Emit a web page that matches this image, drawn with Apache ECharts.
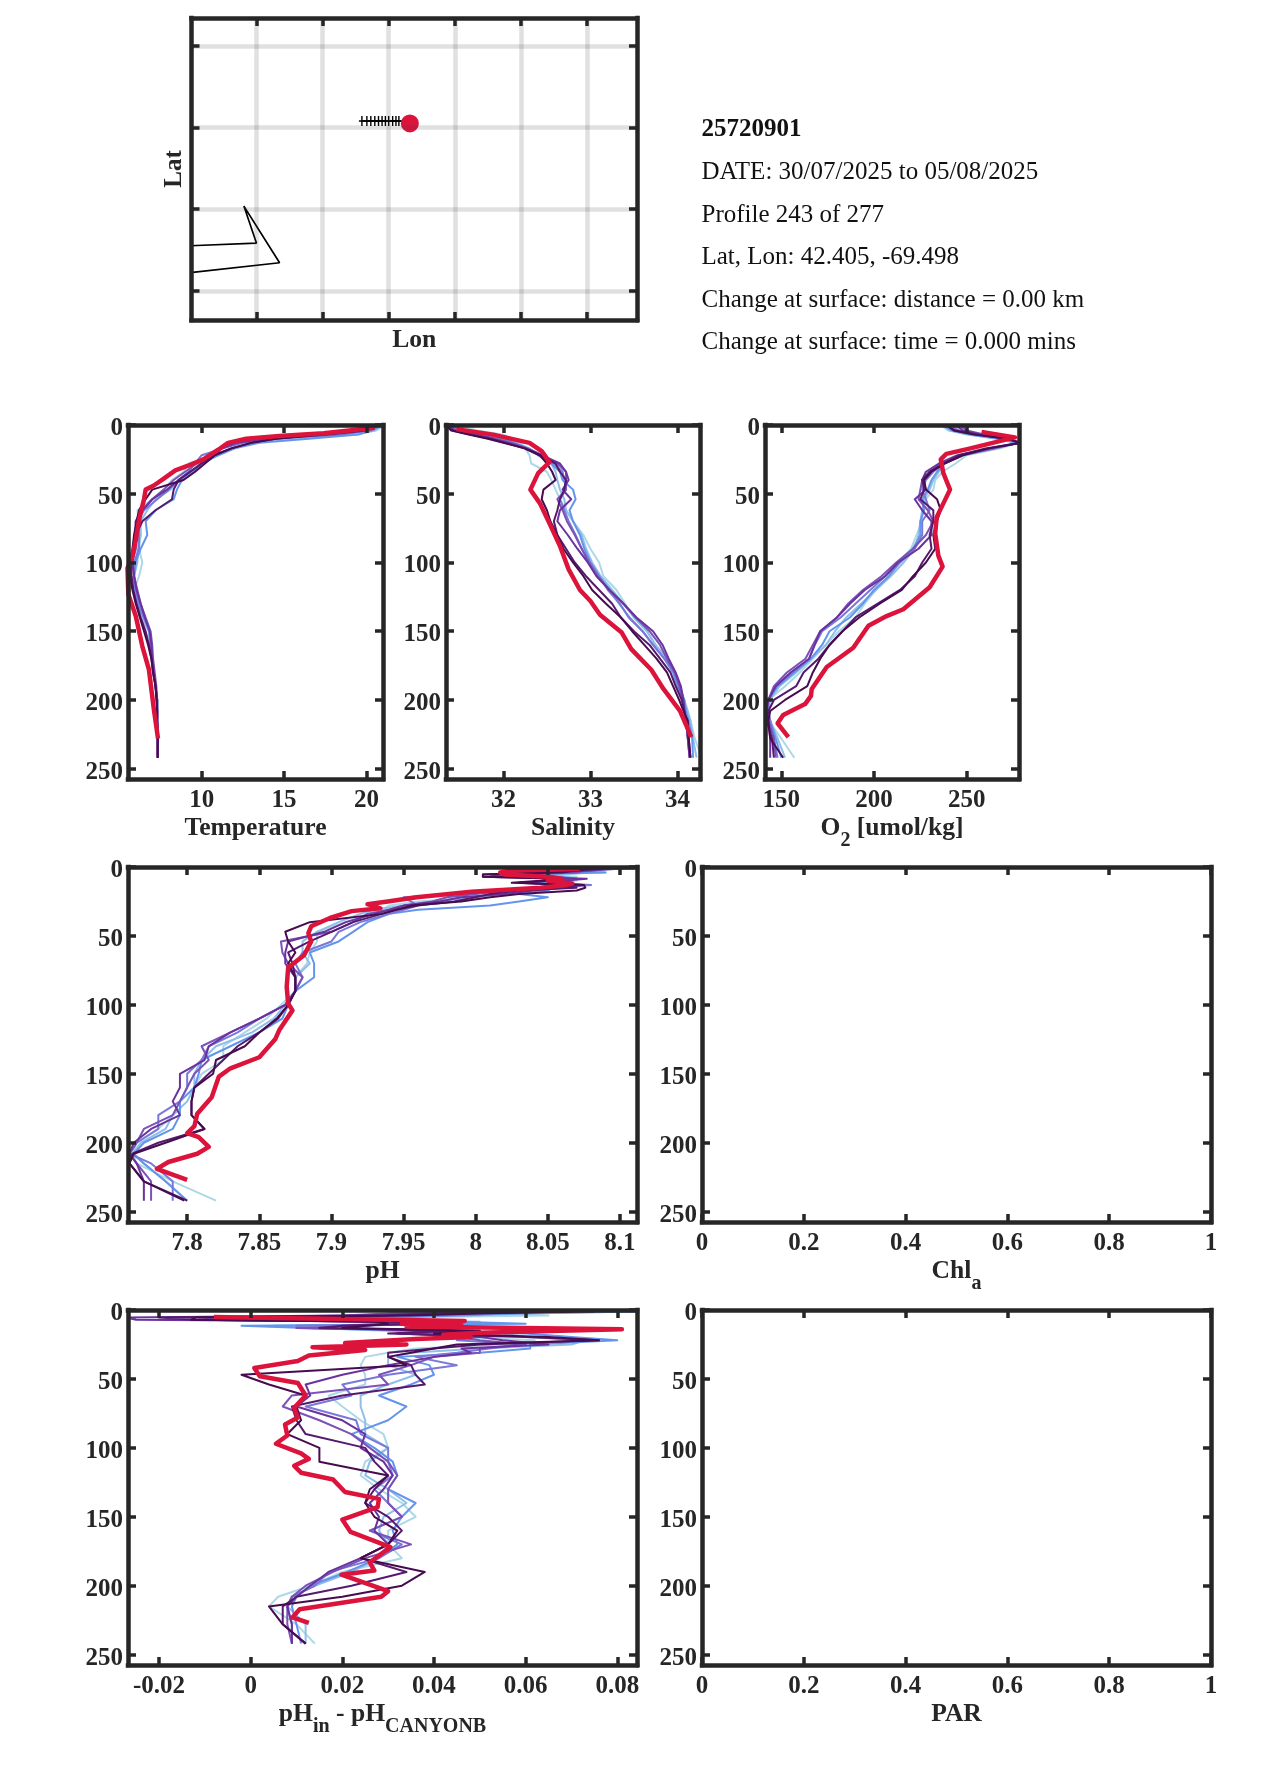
<!DOCTYPE html>
<html><head><meta charset="utf-8">
<style>html,body{margin:0;padding:0;background:#fff}#c{width:1275px;height:1771px}</style>
<script src="https://cdn.jsdelivr.net/npm/echarts@6/dist/echarts.min.js"></script>
</head><body><div id="c"></div>
<script>
const levels=[1,4,7,10,13,17,22,28,34,40,47,54,62,70,80,90,100,110,120,130,140,150,160,170,180,190,200,208,215,228,242];
const topLevels=[2.5,5.5,8.5,11.5,15,19.5,25,31];
const depthTicks=[0,50,100,150,200,250];
const lineColors=['#add8e6','#8fbfe8','#6495ed','#7a78d8','#7b52b8','#6a329f','#551a6e','#470b4f'];
const redColor='#dc143c';

const tempS1=[21,20.6,19,15,13,12,11,9.2,8.9,8.2,7.7,7,6.1,6.2,6.3,6.2,6.4,6.2,5.9,6,6.4,6.8,6.9,7,7.1,7.2,7.3,7.3,7.3,7.35,7.35];
const tempS2=[20.9,20.5,19.4,15.5,13,12,10.6,9.9,9.4,8.7,8.1,7.2,6.7,6.3,6.3,6.1,6.1,5.9,5.9,6.1,6.4,6.8,6.9,7,7.1,7.2,7.3,7.3,7.3,7.35,7.35];
const tempS3=[20.8,20.3,19.5,16.5,13.5,12,11,10,9.5,8.8,8.5,8.3,7.2,6.6,6.7,6.3,6,5.9,5.9,6.1,6.5,6.8,6.9,7,7.1,7.2,7.3,7.3,7.3,7.35,7.35];
const tempS4=[20.7,20.2,18.5,14,12.5,11.3,10,9.6,9.2,8.6,8,7.3,6.5,6.1,6.2,6.2,5.9,5.9,6,6.2,6.5,6.85,6.9,7,7.1,7.2,7.3,7.3,7.3,7.33,7.33];
const tempS5=[20.6,20,18,14,12.3,11.2,10.5,9.7,9,8.3,7.7,7,6.4,6,6,6,5.8,5.9,6.1,6.3,6.6,6.9,7,7.05,7.15,7.25,7.3,7.3,7.3,7.33,7.33];
const tempS6=[20.6,20,17.5,13.8,12,11.2,10.8,10,9.3,8.6,7.9,7,6.4,6,6,5.9,5.8,5.9,6.05,6.3,6.55,6.85,6.95,7,7.1,7.2,7.3,7.3,7.3,7.33,7.33];
const tempS7=[20.5,19.8,17.5,14.5,13,11.8,10.7,10,9.3,8.6,8.3,8.2,7.2,6.4,6,5.9,5.7,5.75,5.85,6.05,6.3,6.6,6.8,6.95,7.05,7.2,7.28,7.3,7.3,7.33,7.33];
const tempS8=[20.5,19.5,17,14.5,13,11.8,10.8,10.2,9.6,8.9,7,6.6,6.2,6.05,5.9,5.8,5.6,5.65,5.8,6,6.25,6.5,6.75,6.95,7.05,7.2,7.25,7.3,7.3,7.33,7.33];
const tempRedDepth=[2,6,8,10,13,18,25,29,33,39,44,47,54,69,84,95,104,123,139,161,178,207,228];
const tempRedValue=[20.5,17.4,14.7,12.7,11.6,11,10.1,9.3,8.4,7.7,7.1,6.6,6.5,6.2,6,5.8,5.5,5.55,6,6.4,6.8,7.1,7.35];

const salS1=[31.5,31.7,32.0,32.1,32.2,32.25,32.3,32.32,32.5,32.55,32.6,32.65,32.72,32.8,32.92,33.0,33.1,33.15,33.3,33.4,33.5,33.65,33.75,33.85,33.95,34.0,34.05,34.1,34.15,34.2,34.28];
const salS2=[31.4,31.55,31.85,32.0,32.15,32.3,32.4,32.55,32.6,32.62,32.65,32.7,32.72,32.8,32.9,32.95,33.02,33.12,33.25,33.38,33.5,33.65,33.75,33.88,33.97,34.03,34.08,34.12,34.15,34.18,34.22];
const salS3=[31.4,31.5,31.8,31.98,32.12,32.28,32.42,32.55,32.65,32.68,32.8,32.83,32.76,32.8,32.88,32.93,33.0,33.1,33.22,33.33,33.45,33.6,33.72,33.85,33.95,34.0,34.08,34.1,34.13,34.17,34.18];
const salS4=[31.38,31.48,31.72,31.92,32.08,32.26,32.4,32.58,32.68,32.7,32.72,32.65,32.7,32.75,32.83,32.9,33.0,33.1,33.2,33.34,33.44,33.6,33.72,33.85,33.97,34.03,34.07,34.09,34.1,34.12,34.15];
const salS5=[31.36,31.45,31.7,31.9,32.1,32.28,32.45,32.62,32.72,32.72,32.72,32.62,32.68,32.73,32.82,32.9,32.98,33.08,33.22,33.38,33.52,33.68,33.8,33.88,33.97,34.02,34.06,34.08,34.1,34.12,34.14];
const salS6=[31.36,31.44,31.68,31.88,32.05,32.25,32.44,32.65,32.72,32.75,32.68,32.78,32.65,32.62,32.74,32.85,32.97,33.07,33.22,33.38,33.53,33.72,33.83,33.9,33.98,34.04,34.07,34.08,34.1,34.12,34.14];
const salS7=[31.35,31.42,31.62,31.85,32.02,32.24,32.42,32.6,32.65,32.72,32.7,32.65,32.62,32.58,32.62,32.72,32.82,32.95,33.1,33.25,33.35,33.5,33.68,33.8,33.92,33.98,34.05,34.08,34.1,34.13,34.15];
const salS8=[31.35,31.4,31.6,31.82,32.0,32.25,32.42,32.5,32.56,32.6,32.46,32.44,32.5,32.54,32.62,32.69,32.8,32.92,33.02,33.18,33.35,33.48,33.62,33.76,33.88,33.95,34.02,34.07,34.12,34.13,34.15];
const salRedDepth=[3,7,13,19,27,35,47,57,73,88,105,120,128,138,151,163,178,192,208,227];
const salRedValue=[31.46,31.88,32.3,32.44,32.53,32.4,32.31,32.42,32.54,32.65,32.75,32.88,33.0,33.11,33.36,33.47,33.7,33.84,34.03,34.16];

const oxyS1=[237,240,252,268,278,268,250,244,237,233,232,228,226,226,223,220,213,208,201,195,190,181,174,167,160,152,143,141,143,150,157];
const oxyS2=[238,241,250,266,276,262,246,238,235,232,230,227,226,225,224,222,216,209,201,193,185,179,174,166,158,149,144,143,144,148,152];
const oxyS3=[238,242,252,268,277,265,247,238,234,231,229,226,227,225,225,221,214,208,200,194,187,176,172,166,157,148,143,142,144,147,150];
const oxyS4=[242,246,256,270,278,266,248,238,232,228,226,228,230,226,226,222,214,206,198,190,182,172,168,165,156,147,143,143,144,146,148];
const oxyS5=[247,250,260,272,278,264,246,236,230,226,225,224,229,232,228,221,212,204,194,186,180,171,167,163,153,146,143,142,143,146,147];
const oxyS6=[245,248,258,272,279,262,245,235,228,226,228,222,226,231,231,224,213,206,195,187,180,171,168,165,155,147,143,142,143,144,144];
const oxyS7=[240,244,256,272,279,260,246,238,230,226,227,225,232,232,230,231,226,222,214,202,190,183,176,170,162,158,146,143,142,145,146];
const oxyS8=[240,243,254,272,279,262,248,238,231,227,228,234,236,234,232,233,228,221,215,203,192,183,176,171,167,164,152,144,143,144,151];
const oxyRedDepth=[5,9,17,21,25,35,47,57,67,79,95,103,118,134,139,146,162,176,192,197,203,211,217,227];
const oxyRedValue=[258,276,252,239,236,237.4,241,237.4,233.8,233,234.7,237,230,215.8,206.8,197,188.8,174.5,166.4,166,162.8,151,148,153.8];

const phS1=[8.11,8.09,8.07,8.07,8.07,8.04,8.0,7.94,7.925,7.91,7.89,7.89,7.885,7.883,7.875,7.875,7.865,7.855,7.84,7.825,7.825,7.81,7.805,7.795,7.79,7.78,7.765,7.762,7.765,7.79,7.82];
const phS2=[8.1,8.08,8.05,8.06,8.07,8.03,8.0,7.95,7.92,7.905,7.89,7.88,7.88,7.885,7.875,7.875,7.868,7.86,7.845,7.82,7.81,7.805,7.805,7.8,7.79,7.785,7.768,7.762,7.77,7.785,7.8];
const phS3=[8.11,8.09,8.06,8.05,8.07,8.05,8.05,8.01,7.94,7.925,7.915,7.905,7.885,7.888,7.888,7.875,7.87,7.866,7.85,7.83,7.81,7.808,7.805,7.795,7.795,7.79,7.77,7.763,7.77,7.785,7.8];
const phS4=[8.1,8.07,8.04,8.06,8.08,8.03,7.95,7.96,7.94,7.92,7.905,7.9,7.88,7.875,7.88,7.875,7.868,7.85,7.835,7.815,7.81,7.8,7.8,7.795,7.78,7.78,7.765,7.76,7.775,7.79,7.79];
const phS5=[8.1,8.07,8.03,8.05,8.07,8.02,7.98,7.95,7.925,7.915,7.9,7.865,7.866,7.87,7.88,7.875,7.868,7.85,7.83,7.81,7.815,7.805,7.8,7.795,7.79,7.77,7.765,7.76,7.765,7.775,7.775];
const phS6=[8.095,8.05,8.02,8.06,8.075,8.04,7.99,7.95,7.93,7.91,7.895,7.87,7.868,7.868,7.875,7.875,7.868,7.85,7.83,7.815,7.812,7.795,7.795,7.79,7.795,7.775,7.763,7.76,7.765,7.77,7.77];
const phS7=[8.09,8.06,8.005,8.05,8.06,8.03,8.0,7.96,7.935,7.915,7.9,7.885,7.87,7.873,7.875,7.875,7.87,7.863,7.85,7.835,7.825,7.815,7.805,7.803,7.803,7.812,7.78,7.762,7.76,7.77,7.8];
const phS8=[8.08,8.05,8.005,8.045,8.075,8.07,8.01,7.955,7.935,7.885,7.868,7.87,7.875,7.87,7.875,7.875,7.87,7.862,7.85,7.84,7.82,7.818,7.805,7.803,7.803,7.812,7.785,7.763,7.76,7.77,7.798];
const phTop1=[8.06,8.04,8.05,8.03,8.055,8.02,7.96,7.935];
const phTop2=[8.07,8.05,8.06,8.04,8.06,8.015,7.97,7.93];
const phTop3=[8.06,8.03,8.07,8.035,8.055,8.03,8.03,7.96];
const phTop4=[8.08,8.02,8.07,8.05,8.05,7.99,7.955,7.95];
const phTop5=[8.075,8.02,8.065,8.06,8.05,8.0,7.97,7.94];
const phTop6=[8.08,8.01,8.077,8.055,8.06,8.02,7.975,7.94];
const phTop7=[8.07,8.005,8.06,8.03,8.07,8.01,7.985,7.945];
const phTop8=[8.07,8.005,8.06,8.025,8.076,8.03,7.99,7.945];
const phRedDepth=[1.5,2.5,4,5.5,7,8.5,10,12,13.5,15,18,22,25,27,30,32,37,43,48,54,64,73,87,99,104,118,125,138,146,152,167,179,188,193,196,203,208,214,219,227];
const phRedValue=[8.072,8.025,8.017,8.02,8.05,8.06,8.05,8.067,8.06,8.045,7.997,7.959,7.939,7.925,7.934,7.914,7.899,7.886,7.884,7.886,7.881,7.87,7.869,7.87,7.873,7.864,7.861,7.85,7.83,7.822,7.817,7.807,7.805,7.8,7.808,7.815,7.807,7.787,7.779,7.8];

const diffS1=[0.084,0.065,0.03,0.045,0.012,0.05,0.062,0.036,0.025,0.024,0.025,0.025,0.017,0.02,0.024,0.029,0.03,0.025,0.024,0.028,0.033,0.036,0.03,0.03,0.033,0.02,0.013,0.006,0.004,0.01,0.014];
const diffS2=[0.084,0.05,0.01,0.05,0.013,0.055,0.073,0.05,0.03,0.03,0.036,0.03,0.024,0.024,0.025,0.025,0.03,0.026,0.025,0.03,0.034,0.029,0.028,0.03,0.028,0.022,0.014,0.009,0.008,0.012,0.012];
const diffS3=[0.084,0.045,0.02,0.06,0.012,0.06,0.08,0.061,0.032,0.039,0.04,0.035,0.028,0.034,0.03,0.022,0.027,0.031,0.032,0.03,0.036,0.033,0.031,0.032,0.028,0.021,0.013,0.01,0.009,0.01,0.011];
const diffS4=[0.064,0.03,0,0.04,0.01,0.04,0.045,0.052,0.036,0.045,0.03,0.02,0.022,0.012,0.023,0.024,0.03,0.03,0.031,0.027,0.03,0.033,0.026,0.033,0.028,0.017,0.014,0.009,0.008,0.009,0.009];
const diffS5=[0.058,0.02,-0.012,0.035,0.01,0.035,0.05,0.05,0.04,0.035,0.028,0.03,0.009,0.007,0.015,0.022,0.026,0.03,0.032,0.03,0.03,0.033,0.026,0.035,0.025,0.018,0.012,0.009,0.008,0.008,0.009];
const diffS6=[0.055,0.02,-0.025,0.03,0.02,0.032,0.055,0.046,0.04,0.03,0.02,0.012,0.013,0.01,0.02,0.025,0.024,0.029,0.031,0.029,0.026,0.028,0.027,0.03,0.024,0.017,0.013,0.01,0.008,0.009,0.009];
const diffS7=[0.075,0.03,-0.012,0.04,0.015,0.03,0.076,0.04,0.03,0.035,0.036,0.038,0.02,0.009,0.01,0.012,0.025,0.027,0.03,0.027,0.025,0.03,0.033,0.03,0.024,0.034,0.022,0.01,0.007,0.007,0.012];
const diffS8=[0.07,0.035,-0.013,0.03,0.02,0.04,0.076,0.04,0.03,0.034,-0.002,0.004,0.012,0.01,0.011,0.008,0.015,0.015,0.03,0.026,0.025,0.027,0.032,0.03,0.024,0.038,0.033,0.02,0.004,0.007,0.012];
const diffTop1=[0.05,0.03,0.04,0.02,0.05,0.045,0.055,0.03];
const diffTop2=[0.04,0.02,0.05,0.005,0.03,0.06,0.07,0.035];
const diffTop3=[0.06,0.03,0.045,-0.002,0.035,0.07,0.061,0.05];
const diffTop4=[0.03,0.01,0.04,0.01,0.045,0.05,0.06,0.045];
const diffTop5=[0.03,-0.005,0.03,0.025,0.05,0.045,0.06,0.05];
const diffTop6=[0.04,-0.027,0.035,0.02,0.04,0.05,0.065,0.048];
const diffTop7=[0.04,-0.02,0.03,0.02,0.045,0.06,0.05,0.03];
const diffTop8=[0.05,-0.012,0.028,0.025,0.05,0.065,0.045,0.035];
const diffRedDepth=[5,7,8,10,11,12,14,16.5,18,19.5,21,24,25,27,29,33,37,42,48,53,62,71,78,83,91,97,104,108,113,118,123,132,137,143,152,161,172,183,189,192,204,208,217,223,227];
const diffRedValue=[-0.008,0.03,0.0467,0.033,0.046,0.034,0.081,0.05,0.042,0.048,0.036,0.0206,0.034,0.0135,0.025,0.0127,0.0103,0.0008,0.002,0.0103,0.012,0.0095,0.0103,0.0075,0.008,0.0055,0.011,0.0127,0.0095,0.011,0.018,0.0206,0.028,0.0277,0.02,0.0218,0.0305,0.026,0.027,0.0198,0.03,0.0285,0.0107,0.0091,0.0127];

const lonTicks=[-69.73,-69.63,-69.53,-69.43,-69.33,-69.23];
const latTicks=[42.5,42.4,42.3,42.2];
const trackLon=[-69.5705,-69.563,-69.557,-69.551,-69.5454,-69.54,-69.535,-69.53,-69.524,-69.519,-69.5146];
const trackLat=[42.408,42.408,42.408,42.408,42.408,42.408,42.408,42.408,42.408,42.408,42.408];
const floatLon=[-69.498];
const floatLat=[42.405];
const coastLon=[-69.83,-69.73,-69.749,-69.695,-69.83];
const coastLat=[42.2553,42.2586,42.3038,42.2345,42.2223];

const infoLines=['25720901','DATE: 30/07/2025 to 05/08/2025','Profile 243 of 277','Lat, Lon: 42.405, -69.498','Change at surface: distance = 0.00 km','Change at surface: time = 0.000 mins'];
const infoY=[130,172,215,257,300,342];

const FONT='"Liberation Serif","Times New Roman",serif';
const INK='#262626';
const richSub={s:{fontFamily:FONT,fontWeight:'bold',fontSize:20,color:INK,lineHeight:44,verticalAlign:'bottom'}};
const panels=[
 {l:128,r:383,t:425,b:779,min:5.53,max:21,ticks:[10,15,20],name:'Temperature',red:[tempRedValue,tempRedDepth],thin:[tempS1,tempS2,tempS3,tempS4,tempS5,tempS6,tempS7,tempS8]},
 {l:446,r:700,t:425,b:779,min:31.34,max:34.26,ticks:[32,33,34],name:'Salinity',red:[salRedValue,salRedDepth],thin:[salS1,salS2,salS3,salS4,salS5,salS6,salS7,salS8]},
 {l:765,r:1019,t:425,b:779,min:141.2,max:278.2,ticks:[150,200,250],name:'O{s|2} [umol/kg]',red:[oxyRedValue,oxyRedDepth],thin:[oxyS1,oxyS2,oxyS3,oxyS4,oxyS5,oxyS6,oxyS7,oxyS8]},
 {l:128,r:637,t:867,b:1222,min:7.759,max:8.1118,ticks:[7.8,7.85,7.9,7.95,8,8.05,8.1],name:'pH',red:[phRedValue,phRedDepth],thin:[phS1,phS2,phS3,phS4,phS5,phS6,phS7,phS8],top:[phTop1,phTop2,phTop3,phTop4,phTop5,phTop6,phTop7,phTop8]},
 {l:702,r:1211,t:867,b:1222,min:0,max:1,ticks:[0,0.2,0.4,0.6,0.8,1],name:'Chl{s|a}',thin:[]},
 {l:128,r:637,t:1310,b:1665,min:-0.02676,max:0.0843,ticks:[-0.02,0,0.02,0.04,0.06,0.08],name:'pH{s|in} - pH{s|CANYONB}',red:[diffRedValue,diffRedDepth],thin:[diffS1,diffS2,diffS3,diffS4,diffS5,diffS6,diffS7,diffS8],top:[diffTop1,diffTop2,diffTop3,diffTop4,diffTop5,diffTop6,diffTop7,diffTop8]},
 {l:702,r:1211,t:1310,b:1665,min:0,max:1,ticks:[0,0.2,0.4,0.6,0.8,1],name:'PAR',thin:[]}
];

const grid=[],xAxis=[],yAxis=[],series=[];
const label=(vals,margin,extra)=>Object.assign({show:true,customValues:vals,margin,fontFamily:FONT,fontWeight:'bold',fontSize:25,color:INK,formatter:v=>String(v),hideOverlap:false,showMinLabel:true,showMaxLabel:true},extra||{});
const tick=(vals)=>({show:true,inside:true,length:8,customValues:vals,lineStyle:{color:INK,width:3.5}});
const line={show:true,onZero:false,lineStyle:{color:INK,width:4.5,cap:'square'}};
const nameStyle={fontFamily:FONT,fontWeight:'bold',fontSize:25.6,color:INK,verticalAlign:'middle',rich:richSub};

function addAxes(g,o){
  const i=grid.length;
  grid.push({left:g.l,top:g.t,width:g.r-g.l,height:g.b-g.t,containLabel:false});
  xAxis.push({gridIndex:i,type:'value',position:'bottom',min:g.min,max:g.max,z:10,axisLine:line,axisTick:tick(o.xt),
    axisLabel:o.xl?label(o.xl,9):{show:false},splitLine:o.grid?{show:true,lineStyle:{color:'rgba(60,60,60,0.16)',width:4.5}}:{show:false},
    name:g.name,nameLocation:'middle',nameGap:o.xGap||49.5,nameTextStyle:nameStyle});
  xAxis.push({gridIndex:i,type:'value',position:'top',min:g.min,max:g.max,z:10,axisLine:line,axisTick:tick(o.xt),axisLabel:{show:false},splitLine:{show:false}});
  yAxis.push({gridIndex:i,type:'value',position:'left',inverse:o.inv,min:o.ymin,max:o.ymax,z:10,axisLine:line,axisTick:tick(o.yt),
    axisLabel:o.yl?label(o.yl,5,{lineHeight:7,verticalAlign:'top'}):{show:false},splitLine:o.grid?{show:true,lineStyle:{color:'rgba(60,60,60,0.16)',width:4.5}}:{show:false},
    name:o.yName,nameLocation:'middle',nameGap:17,nameRotate:90,nameTextStyle:{fontFamily:FONT,fontWeight:'bold',fontSize:25,color:INK,verticalAlign:'middle'}});
  yAxis.push({gridIndex:i,type:'value',position:'right',inverse:o.inv,min:o.ymin,max:o.ymax,z:10,axisLine:line,axisTick:tick(o.yt),axisLabel:{show:false},splitLine:{show:false}});
  return xAxis.length-2;
}

// map panel
const mapIdx=addAxes({l:191.5,r:637,t:18,b:320,min:-69.8282,max:-69.1545,name:'Lon'},
 {xt:lonTicks,yt:latTicks,grid:true,ymin:42.1644,ymax:42.534,inv:false,yName:'Lat',xGap:20});
const mapBase={xAxisIndex:mapIdx,yAxisIndex:mapIdx,animation:false};
series.push(Object.assign({},mapBase,{type:'line',symbol:'none',z:3,lineStyle:{color:'#000',width:1.7},
  data:coastLon.map((v,i)=>[v,coastLat[i]])}));
series.push(Object.assign({},mapBase,{type:'line',z:4,lineStyle:{color:'#000',width:1.6},
  symbol:'path://M2.3,0H3.7V10H2.3Z M0,4.3H6V5.7H0Z',symbolSize:[6,10],symbolKeepAspect:false,showSymbol:true,itemStyle:{color:'#000'},
  data:trackLon.map((v,i)=>[v,trackLat[i]])}));
series.push(Object.assign({},mapBase,{type:'line',symbol:'none',z:4,lineStyle:{color:'#000',width:1.6},
  data:[[trackLon[trackLon.length-1],trackLat[trackLat.length-1]],[floatLon[0],trackLat[trackLat.length-1]]]}));
series.push(Object.assign({},mapBase,{type:'scatter',z:5,symbol:'circle',symbolSize:18,itemStyle:{color:redColor,opacity:1},
  data:floatLon.map((v,i)=>[v,floatLat[i]])}));

// profile panels
panels.forEach(p=>{
  const idx=addAxes(p,{xt:p.ticks,xl:p.ticks,yt:depthTicks,yl:depthTicks,ymin:0,ymax:257.5,inv:true});
  p.thin.forEach((arr,k)=>{
    let pts=arr.map((v,i)=>[v,levels[i]]);
    if(p.top) pts=pts.concat(p.top[k].map((v,i)=>[v,topLevels[i]])).sort((a,b)=>a[1]-b[1]);
    series.push({type:'line',xAxisIndex:idx,yAxisIndex:idx,symbol:'none',animation:false,z:3,
      lineStyle:{color:lineColors[k],width:2,join:'round'},data:pts});
  });
  if(p.red) series.push({type:'line',xAxisIndex:idx,yAxisIndex:idx,symbol:'none',animation:false,z:4,
    lineStyle:{color:redColor,width:4.5,join:'round'},data:p.red[0].map((v,i)=>[v,p.red[1][i]])});
});

const chart=echarts.init(document.getElementById('c'),null,{renderer:'canvas',width:1275,height:1771});
chart.setOption({animation:false,backgroundColor:'#fff',grid,xAxis,yAxis,series,
  graphic:infoLines.map((t,i)=>({type:'text',z:20,x:701.5,y:infoY[i],style:{text:t,fill:'#111',verticalAlign:'middle',
    font:(i===0?'bold ':'')+'25px '+FONT}}))});
</script></body></html>
